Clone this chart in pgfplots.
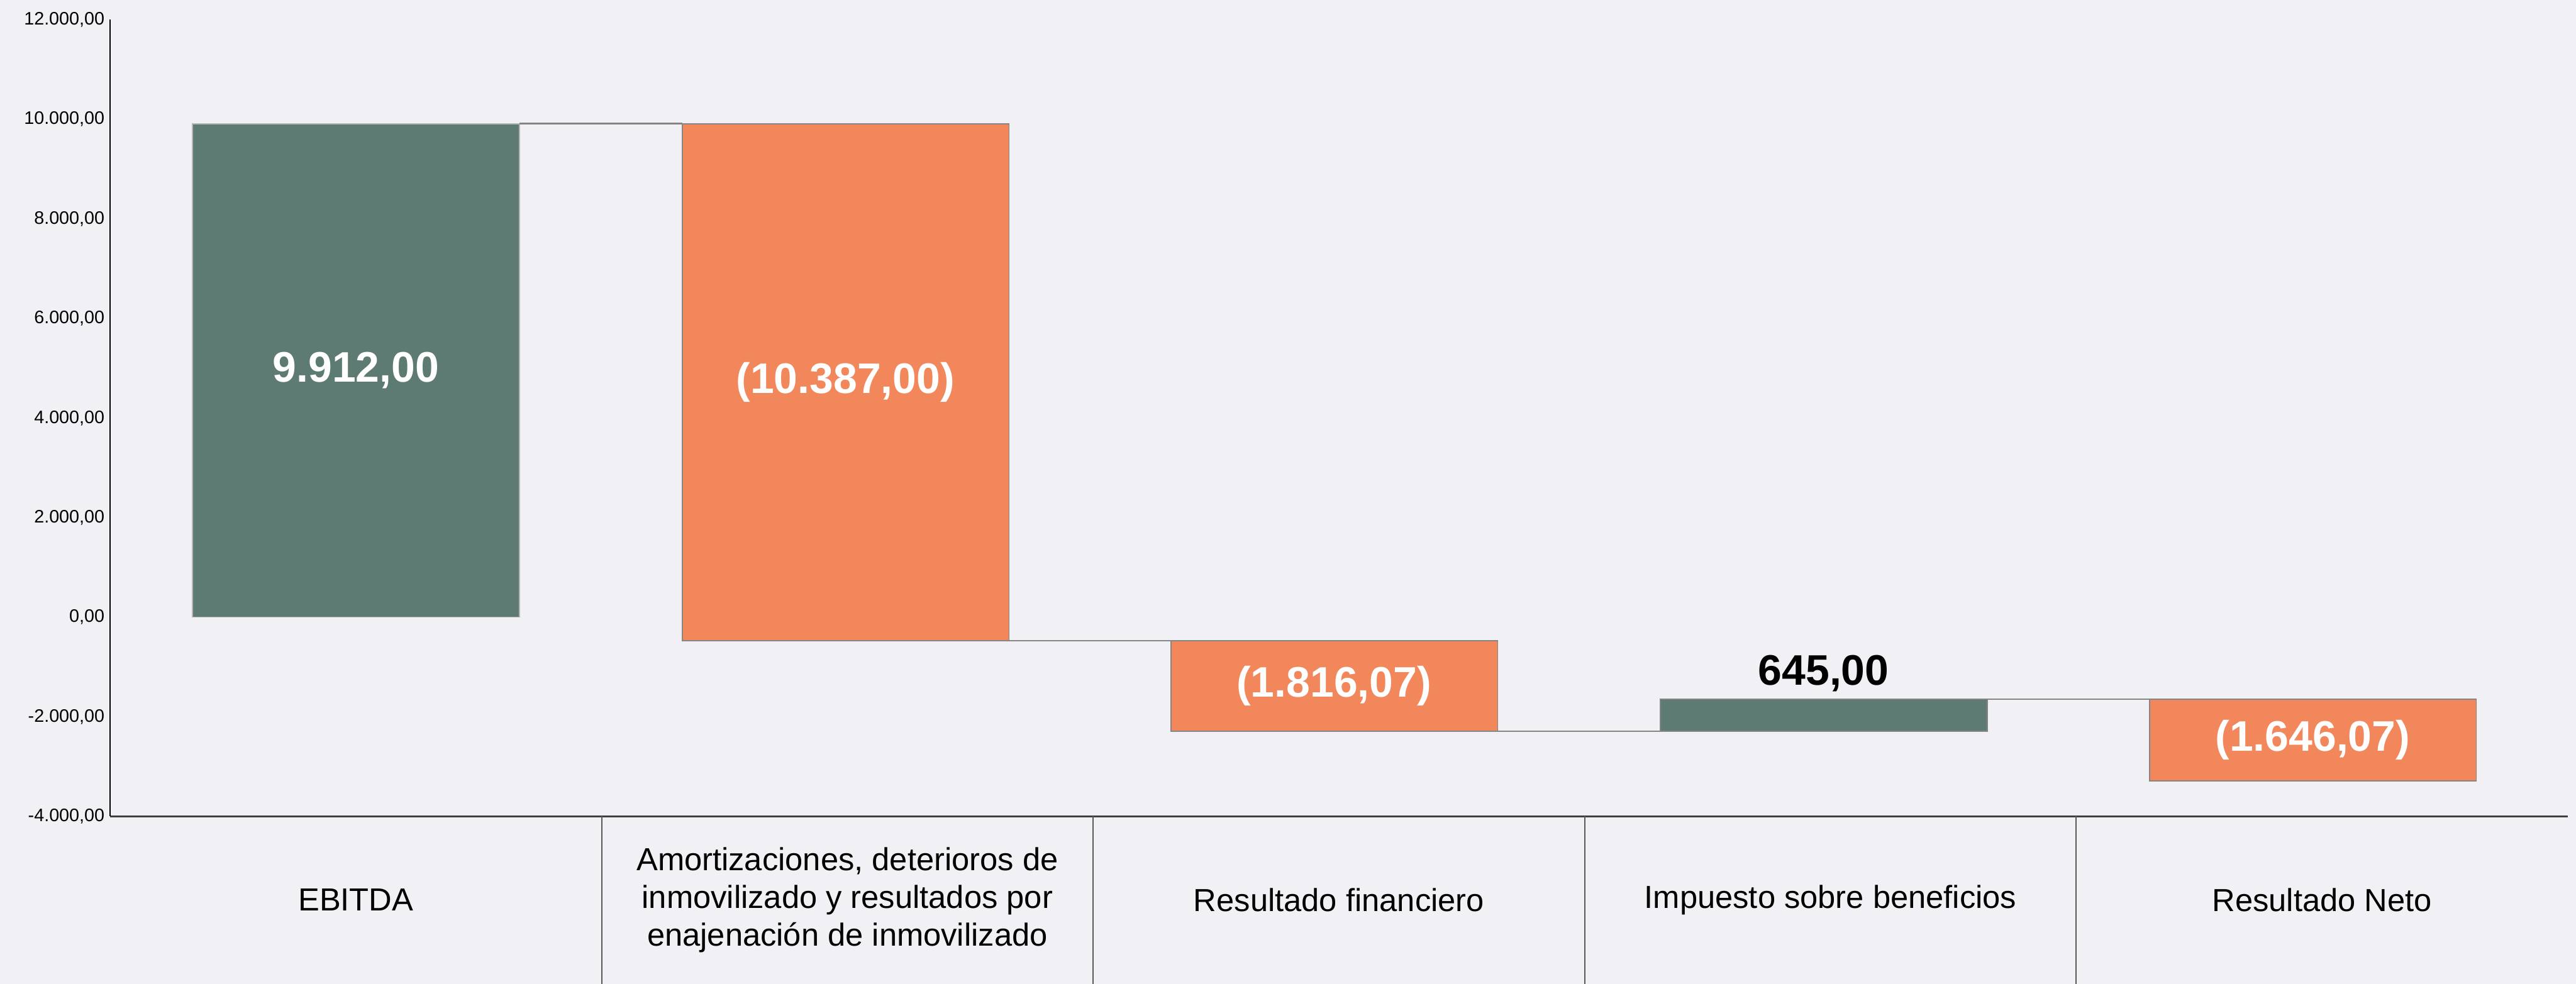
\documentclass[border=0pt]{standalone}
\usepackage{pgfplots}
\pgfplotsset{compat=1.18}
\usepackage{fontspec}
\setmainfont{Liberation Sans}
\definecolor{bg}{HTML}{F1F0F5}
\definecolor{gr}{HTML}{5D7B73}
\definecolor{orng}{HTML}{F3875C}
\definecolor{bd}{HTML}{858585}
\begin{document}
\begin{tikzpicture}
\path[fill=bg, use as bounding box] (0,0) rectangle (784pt,299.5pt);
\begin{axis}[
  at={(33.5pt,51pt)}, anchor=south west,
  scale only axis, width=748pt, height=242.5pt,
  xmin=-0.5, xmax=4.5, ymin=-4000, ymax=12000,
  axis x line=bottom, axis y line=left,
  axis line style={-, line width=0.5pt},
  x axis line style={draw=black!75},
  y axis line style={draw=black},
  ytick={-4000,-2000,0,2000,4000,6000,8000,10000,12000},
  yticklabels={{-4.000,00},{-2.000,00},{0,00},{2.000,00},{4.000,00},{6.000,00},{8.000,00},{10.000,00},{12.000,00}},
  yticklabel style={font=\fontsize{5.5}{6}\selectfont, xshift=-0.5pt, inner sep=1pt},
  major tick length=0pt,
  xtick={0,1,2,3,4},
  xticklabels={EBITDA,{Amortizaciones, deterioros de\\inmovilizado y resultados por\\enajenación de inmovilizado},Resultado financiero,Impuesto sobre beneficios,Resultado Neto},
  xticklabel style={font=\fontsize{9.7}{11.5}\selectfont, align=center, anchor=center, yshift=-25.5pt},
  extra x ticks={0.5,1.5,2.5,3.5},
  extra x tick labels={},
  extra x tick style={major tick length=51pt, tick align=outside, tick style={draw=black!65, line width=0.35pt}},
  clip=false,
]
% bars: (left,start) (right,start) (right,end) (left,end)
% EBITDA: 0 -> 9912
\addplot[fill=gr, draw=bd!60, line width=0.35pt] coordinates {(-0.332,0) (0.333,0) (0.333,9912) (-0.332,9912)} -- cycle;
% Amortizaciones: 9912 -> -475 (-10387)
\addplot[fill=orng, draw=bd, line width=0.35pt] coordinates {(0.664,9912) (1.329,9912) (1.329,-475) (0.664,-475)} -- cycle;
% Resultado financiero: -475 -> -2291.07 (-1816.07)
\addplot[fill=orng, draw=bd, line width=0.35pt] coordinates {(1.658,-475) (2.323,-475) (2.323,-2291.07) (1.658,-2291.07)} -- cycle;
% Impuesto: -2291.07 -> -1646.07 (+645)
\addplot[fill=gr, draw=bd, line width=0.35pt] coordinates {(2.654,-2291.07) (3.319,-2291.07) (3.319,-1646.07) (2.654,-1646.07)} -- cycle;
% Resultado Neto: -1646.07 -> -3292.14 (-1646.07)
\addplot[fill=orng, draw=bd, line width=0.35pt] coordinates {(3.649,-1646.07) (4.314,-1646.07) (4.314,-3292.14) (3.649,-3292.14)} -- cycle;
% connectors
\addplot[draw=bd, line width=0.5pt] coordinates {(0.333,9912) (0.664,9912)};
\addplot[draw=bd, line width=0.5pt] coordinates {(1.329,-475) (1.658,-475)};
\addplot[draw=bd, line width=0.5pt] coordinates {(2.323,-2291.07) (2.654,-2291.07)};
\addplot[draw=bd, line width=0.5pt] coordinates {(3.319,-1646.07) (3.649,-1646.07)};
% labels
\addplot[draw=none, mark=none, nodes near coords, point meta=explicit symbolic,
  every node near coord/.style={anchor=center, text=white, font=\fontsize{13}{15}\bfseries\selectfont}]
  table[meta=label] {
x y label
0 4956 9.912,00
0.996 4718.5 (10.387,00)
1.990 -1383 (1.816,07)
3.981 -2469 (1.646,07)
};
\addplot[draw=none, mark=none, nodes near coords, point meta=explicit symbolic,
  every node near coord/.style={anchor=center, text=black, font=\fontsize{13}{15}\bfseries\selectfont}]
  table[meta=label] {
x y label
2.986 -1130 645,00
};
\end{axis}
\end{tikzpicture}
\end{document}
